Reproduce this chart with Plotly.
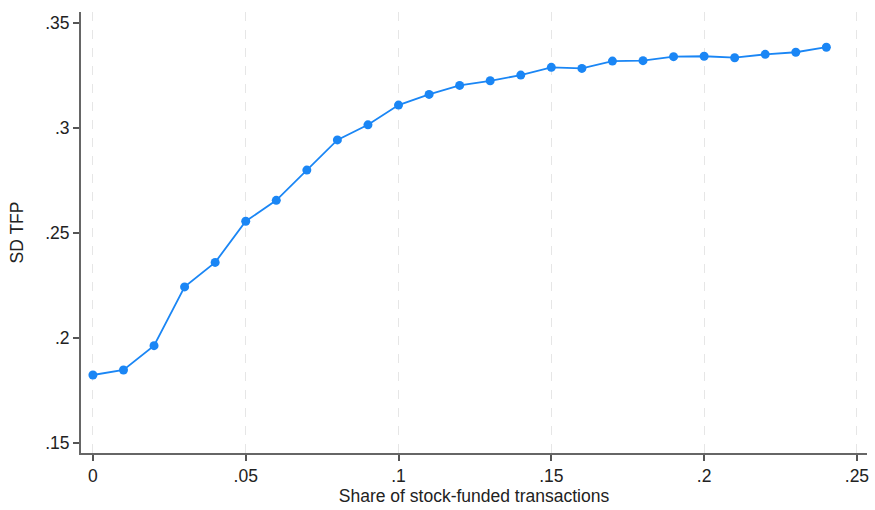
import plotly.graph_objects as go

share = [0.00, 0.01, 0.02, 0.03, 0.04, 0.05, 0.06, 0.07, 0.08, 0.09, 0.10, 0.11, 0.12,
         0.13, 0.14, 0.15, 0.16, 0.17, 0.18, 0.19, 0.20, 0.21, 0.22, 0.23, 0.24]
sd_tfp = [0.1823, 0.1847, 0.1963, 0.2243, 0.2360, 0.2556, 0.2656, 0.2800, 0.2944, 0.3016,
          0.3110, 0.3161, 0.3204, 0.3226, 0.3253, 0.3290, 0.3285, 0.3320, 0.3322, 0.3341,
          0.3343, 0.3336, 0.3352, 0.3362, 0.3386]
x_tickvals = [0, 0.05, 0.10, 0.15, 0.20, 0.25]
x_ticktext = ["0", ".05", ".1", ".15", ".2", ".25"]
y_tickvals = [0.15, 0.20, 0.25, 0.30, 0.35]
y_ticktext = [".15", ".2", ".25", ".3", ".35"]

blue = "#1a86f5"
fig = go.Figure()
fig.add_trace(go.Scatter(
    x=share, y=sd_tfp, mode="lines+markers",
    line=dict(color=blue, width=1.8),
    marker=dict(color=blue, size=9),
    showlegend=False,
    cliponaxis=False,
))

axis_font = dict(family="Liberation Sans, Arial, sans-serif", size=17.5, color="#222222")
fig.update_layout(
    width=875, height=510,
    margin=dict(l=81, r=8, t=12, b=57, autoexpand=False),
    paper_bgcolor="white", plot_bgcolor="white",
    font=axis_font,
)
fig.update_xaxes(
    range=[-0.0039, 0.2533],
    tickvals=x_tickvals, ticktext=x_ticktext,
    ticks="outside", ticklen=6, tickwidth=1.5, tickcolor="#555555",
    showline=True, linecolor="#666666", linewidth=2,
    showgrid=True, gridcolor="#e6e6e6", griddash="dash", gridwidth=1.2,
    zeroline=False, automargin=False, ticklabeloverflow="allow",
    title=dict(text="Share of stock-funded transactions", font=axis_font, standoff=4),
    tickfont=axis_font,
)
fig.update_yaxes(
    range=[0.1451, 0.3554],
    tickvals=y_tickvals, ticktext=y_ticktext,
    ticks="outside", ticklen=6, tickwidth=1.5, tickcolor="#555555",
    showline=True, linecolor="#666666", linewidth=2,
    showgrid=False, zeroline=False, automargin=False,
    title=dict(text="SD TFP", font=axis_font, standoff=17),
    tickfont=axis_font,
)
fig.write_html(
    "out.html",
    config={"displayModeBar": False},
    post_script="document.body.style.margin='0px';document.body.style.overflow='hidden';",
)
